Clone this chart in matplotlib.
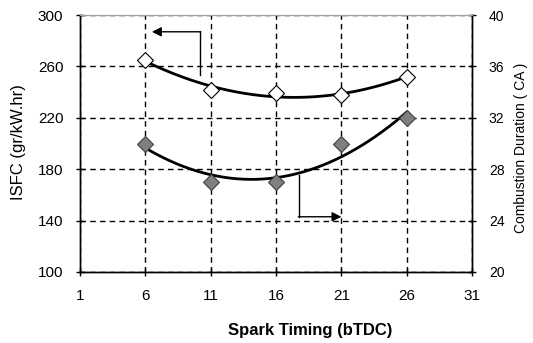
import numpy as np
import matplotlib.pyplot as plt

plt.rcParams['font.family'] = ['Liberation Sans', 'DejaVu Sans']

# spark timing (deg bTDC)
spark_timing = [6, 11, 16, 21, 26]
# indicated specific fuel consumption, gr/kW.hr
isfc = [265, 242, 239, 238, 252]
# combustion duration, crank angle deg
comb_duration = [30, 27, 27, 30, 32]

x_ticks = [1, 6, 11, 16, 21, 26, 31]
isfc_ticks = [100, 140, 180, 220, 260, 300]
cd_ticks = [20, 24, 28, 32, 36, 40]

fig = plt.figure(figsize=(5.33, 3.43), dpi=100)
ax = fig.add_axes([0.150, 0.207, 0.736, 0.749])
ax2 = ax.twinx()

ax.set_xlim(1, 31)
ax.set_ylim(100, 300)
ax2.set_ylim(20, 40)
ax.set_xticks(x_ticks)
ax.set_yticks(isfc_ticks)
ax2.set_yticks(cd_ticks)

ax.grid(True, color='black', linestyle=(0, (4, 3)), linewidth=1.0)
ax.set_axisbelow(True)

# second order trendlines through both series
xs = np.linspace(6, 26, 200)
p1 = np.polyfit(spark_timing, isfc, 2)
p2 = np.polyfit(spark_timing, comb_duration, 2)
ax.plot(xs, np.polyval(p1, xs), color='black', lw=2.0, zorder=3)
ax2.plot(xs, np.polyval(p2, xs), color='black', lw=2.0, zorder=3)

ax.plot(spark_timing, isfc, linestyle='none', marker='D', markersize=8,
        markerfacecolor='white', markeredgecolor='black', markeredgewidth=0.8, zorder=4)
ax2.plot(spark_timing, comb_duration, linestyle='none', marker='D', markersize=8,
         markerfacecolor='#7f7f7f', markeredgecolor='#404040', markeredgewidth=0.8, zorder=4)

# arrows pointing to the axis each curve belongs to
ax.plot([10.2, 10.2], [253, 287], color='black', lw=1.0)
ax.annotate('', xy=(6.5, 287), xytext=(10.25, 287),
            arrowprops=dict(arrowstyle='-|>', color='black', lw=1.0,
                            mutation_scale=14, shrinkA=0, shrinkB=0))
ax.plot([17.75, 17.75], [175.5, 143], color='black', lw=1.0)
ax.annotate('', xy=(21, 143), xytext=(17.7, 143),
            arrowprops=dict(arrowstyle='-|>', color='black', lw=1.0,
                            mutation_scale=14, shrinkA=0, shrinkB=0))

for a in (ax, ax2):
    a.tick_params(direction='inout', length=6, width=1.0, color='black')
    a.spines['top'].set_color('#a0a0a0')
    for s in ('left', 'bottom', 'right'):
        a.spines[s].set_linewidth(1.0)
        a.spines[s].set_color('black')
ax.tick_params(axis='x', labelsize=11, pad=9)
ax.tick_params(axis='y', labelsize=11, pad=9)
ax2.tick_params(axis='y', labelsize=10, pad=9)

fig.text(310 / 533, 1 - 330 / 343, 'Spark Timing (bTDC)', fontsize=12,
         fontweight='bold', ha='center', va='center')
fig.text(19 / 533, 1 - 142 / 343, 'ISFC (gr/kW.hr)', fontsize=12,
         rotation=90, ha='center', va='center')
fig.text(521 / 533, 1 - 148 / 343, 'Combustion Duration ( CA )', fontsize=10,
         rotation=90, ha='center', va='center')

fig.savefig('out.png', dpi=100)
